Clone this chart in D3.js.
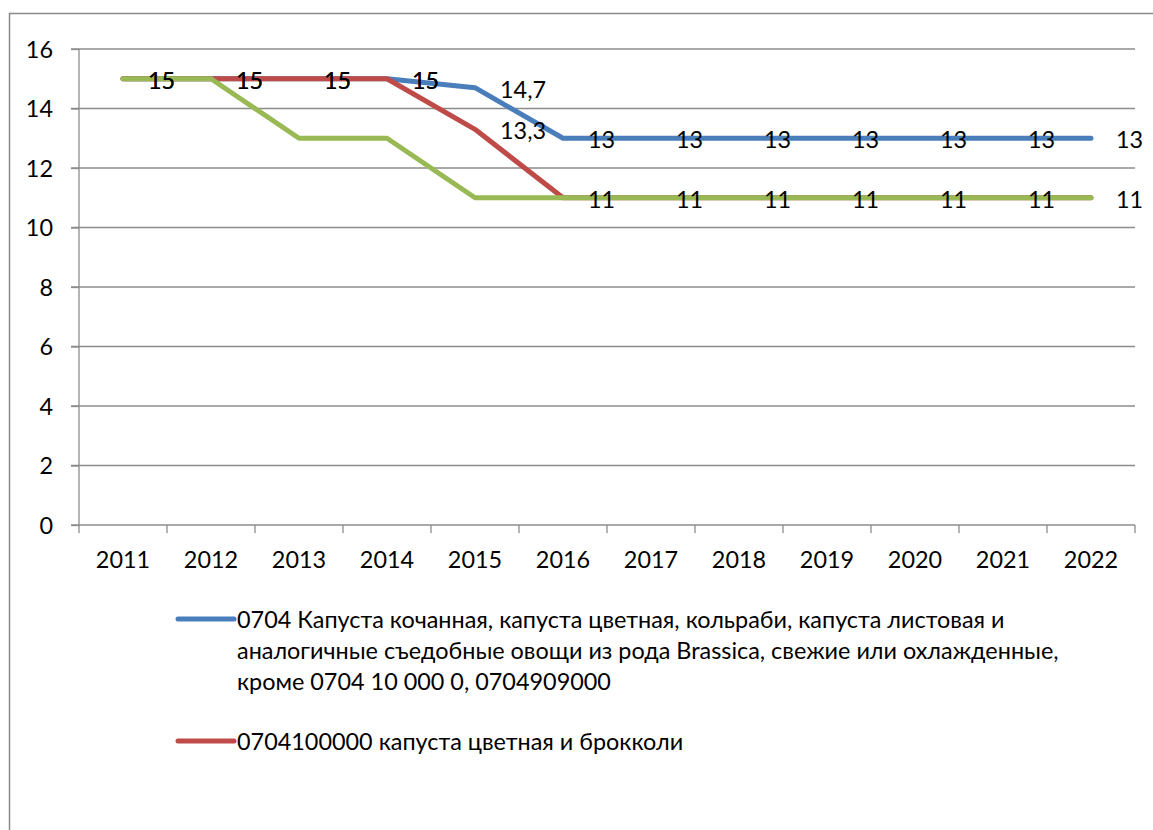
<!DOCTYPE html>
<html>
<head>
<meta charset="utf-8">
<script src="https://cdn.jsdelivr.net/npm/d3@7"></script>
<style>
  body { margin: 0; background: #fff; }
  svg { display: block; font-family: Lato, "Open Sans", sans-serif; }
</style>
</head>
<body>
<div id="chart"></div>
<script>
// data
const years = ["2011", "2012", "2013", "2014", "2015", "2016", "2017", "2018", "2019", "2020", "2021", "2022"];
const blueValues  = [15, 15, 15, 15, 14.7, 13, 13, 13, 13, 13, 13, 13];
const redValues   = [15, 15, 15, 15, 13.3, 11, 11, 11, 11, 11, 11, 11];
const greenValues = [15, 15, 13, 13, 11, 11, 11, 11, 11, 11, 11, 11];
const yTicks = [0, 2, 4, 6, 8, 10, 12, 14, 16];

const blueName = ["0704 Капуста кочанная, капуста цветная, кольраби, капуста листовая и",
                  "аналогичные съедобные овощи из рода Brassica, свежие или охлажденные,",
                  "кроме 0704 10 000 0, 0704909000"];
const redName = ["0704100000 капуста цветная и брокколи"];

const series = [
    {name: blueName, values: blueValues, color: "#4a7ebb", labels: true},
    {name: redName, values: redValues, color: "#be4b48", labels: true},
    {name: null, values: greenValues, color: "#98b954", labels: false}
];

const W = 1153, H = 830;
const margin = {top: 49, left: 79, right: 18};
const plotW = W - margin.left - margin.right;   // 1056
const plotH = 476;
const fontSize = 23.4;

const svg = d3.select("#chart").append("svg")
    .attr("width", W)
    .attr("height", H);

// chart frame (only top and left edges are in view)
svg.append("path")
    .attr("d", `M9.5,${H} V13.5 H${W}`)
    .attr("fill", "none")
    .attr("stroke", "#8a8a8a")
    .attr("stroke-width", 1.5);

const g = svg.append("g")
    .attr("transform", `translate(${margin.left},${margin.top})`);

const x = d3.scaleBand().domain(years).range([0, plotW]);
const y = d3.scaleLinear().domain([0, 16]).range([plotH, 0]);
const cx = d => x(d) + x.bandwidth() / 2;

// gridlines
g.append("g")
    .selectAll("line")
    .data(yTicks.filter(t => t > 0))
    .join("line")
    .attr("x1", -8)
    .attr("x2", plotW)
    .attr("y1", d => y(d))
    .attr("y2", d => y(d))
    .attr("stroke", "#8c8c8c")
    .attr("stroke-width", 1.3);

// y axis
const yAxis = d3.axisLeft(y).tickValues(yTicks).tickSize(8).tickPadding(18);
g.append("g")
    .attr("class", "y-axis")
    .call(yAxis)
    .call(a => a.select(".domain").attr("d", `M0,0V${plotH}`));

// x axis, ticks at band edges
const xAxis = d3.axisBottom(x).tickSize(0).tickPadding(26);
const xg = g.append("g")
    .attr("class", "x-axis")
    .attr("transform", `translate(0,${plotH})`)
    .call(xAxis);
xg.select(".domain").attr("d", `M-8,0H${plotW}`);
xg.selectAll(".edge")
    .data(d3.range(years.length + 1))
    .join("line")
    .attr("class", "edge")
    .attr("x1", i => i * x.bandwidth())
    .attr("x2", i => i * x.bandwidth())
    .attr("y1", 0)
    .attr("y2", 8);

svg.selectAll(".domain, .tick line, .edge")
    .attr("stroke", "#8c8c8c")
    .attr("stroke-width", 1.3);
svg.selectAll(".tick text")
    .attr("fill", "#000")
    .attr("font-size", fontSize)
    .attr("font-family", "Lato, 'Open Sans', sans-serif");
g.select(".y-axis").selectAll(".tick text").attr("dy", "0.36em");

// lines
const line = d3.line()
    .x((d, i) => cx(years[i]))
    .y(d => y(d));

g.selectAll(".series")
    .data(series)
    .join("path")
    .attr("class", "series")
    .attr("d", d => line(d.values))
    .attr("fill", "none")
    .attr("stroke", d => d.color)
    .attr("stroke-width", 5)
    .attr("stroke-linejoin", "round")
    .attr("stroke-linecap", "round");

// data labels to the right of the points
series.filter(s => s.labels).forEach(s => {
    g.append("g")
        .selectAll("text")
        .data(s.values)
        .join("text")
        .attr("x", (d, i) => cx(years[i]) + 25)
        .attr("y", d => y(d))
        .attr("dy", "0.42em")
        .attr("font-size", fontSize)
        .attr("fill", "#000")
        .text(d => String(d).replace(".", ","));
});

// legend
const legend = svg.append("g").attr("transform", "translate(176,0)");
const legendRows = [
    {s: series[0], y: 619},
    {s: series[1], y: 741}
];
legendRows.forEach(r => {
    legend.append("line")
        .attr("x1", 2).attr("x2", 58)
        .attr("y1", r.y).attr("y2", r.y)
        .attr("stroke", r.s.color)
        .attr("stroke-width", 5)
        .attr("stroke-linecap", "round");
    legend.append("text")
        .attr("x", 61)
        .attr("y", r.y + 1)
        .attr("font-size", fontSize)
        .attr("fill", "#000")
        .selectAll("tspan")
        .data(r.s.name)
        .join("tspan")
        .attr("x", 61)
        .attr("dy", (d, i) => i === 0 ? "0.36em" : 31)
        .text(d => d);
});
</script>
</body>
</html>
